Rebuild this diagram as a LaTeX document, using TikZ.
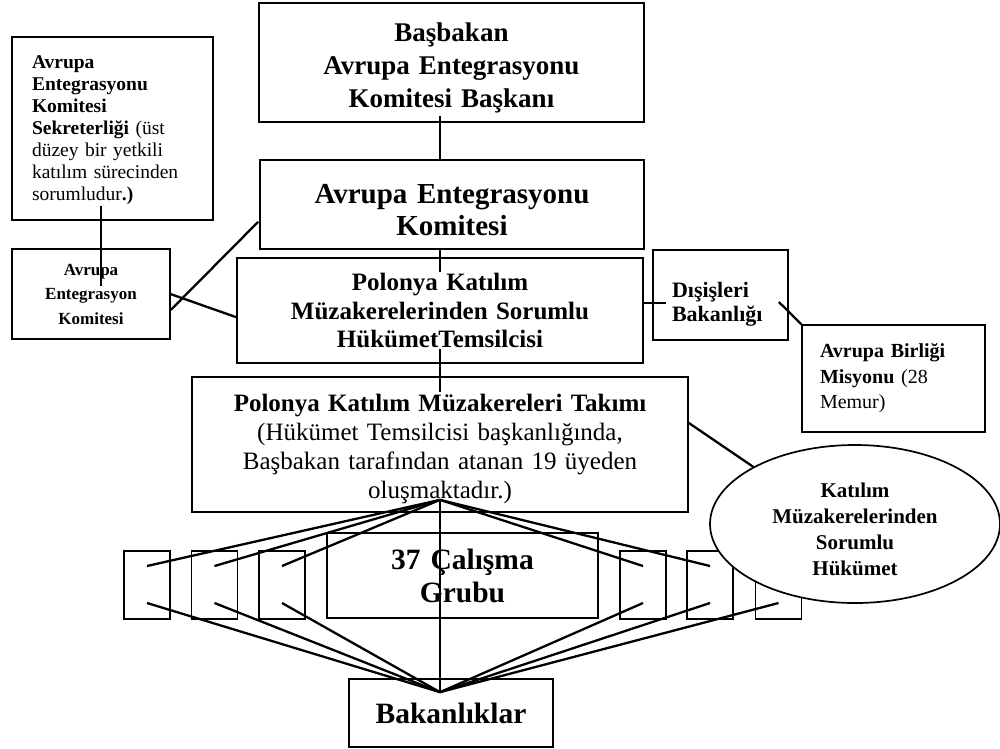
\documentclass[tikz,border=0pt]{standalone}
\usepackage{fontspec}
\setmainfont{Liberation Serif}
\usetikzlibrary{calc,shapes.geometric}
\pgfdeclarelayer{background}
\pgfsetlayers{background,main}
\newcommand{\topstrut}[1]{\rule{0pt}{#1}}
\begin{document}
\begin{tikzpicture}[x=1pt,y=-1pt,
  box/.style={draw, line width=1.7pt, inner sep=0pt, align=center},
  lbox/.style={draw, line width=1.7pt, inner ysep=0pt, align=left},
  sbox/.style={draw, line width=1.7pt, inner sep=0pt, minimum width=46pt, minimum height=68pt},
  conn/.style={draw, line width=2.3pt}]
\useasboundingbox (0,0) rectangle (1000,748);

% main column
\node[box, text width=385pt, minimum height=119pt, font=\fontsize{27}{33}\selectfont\bfseries]
  (pm) at (451.5,62.5) {\topstrut{29pt}Başbakan\\Avrupa Entegrasyonu\\Komitesi Başkanı};
\node[box, text width=384pt, minimum height=89pt, font=\fontsize{29}{32}\selectfont\bfseries]
  (aek) at (452,204.5) {\topstrut{30pt}Avrupa Entegrasyonu\\Komitesi};
\node[box, text width=406pt, minimum height=105pt, font=\fontsize{25}{28.5}\selectfont\bfseries]
  (hukt) at (440,310.5) {Polonya Katılım\\Müzakerelerinden Sorumlu\\HükümetTemsilcisi};
\node[box, text width=496pt, minimum height=135pt, font=\fontsize{25}{29}\selectfont]
  (takim) at (440,444.5) {\topstrut{26.5pt}\textbf{Polonya Katılım Müzakereleri Takımı}\\(Hükümet Temsilcisi başkanlığında,\\Başbakan tarafından atanan 19 üyeden\\oluşmaktadır.)};
\node[box, text width=271pt, minimum height=85pt, font=\fontsize{29.5}{33}\selectfont\bfseries]
  (grup) at (462.5,575.5) {37 Çalışma\\Grubu};
\node[box, text width=204pt, minimum height=68pt, font=\fontsize{29.5}{33}\selectfont\bfseries]
  (bak) at (451,713) {Bakanlıklar};

% left side
\node[lbox, inner xsep=20pt, text width=161pt, minimum height=183pt, font=\fontsize{19.5}{22}\selectfont]
  (sek) at (112.5,128.5) {\topstrut{16pt}\textbf{Avrupa}\\\textbf{Entegrasyonu}\\\textbf{Komitesi}\\\textbf{Sekreterliği} (üst\\düzey bir yetkili\\katılım sürecinden\\sorumludur\textbf{.)}};
\node[box, text width=158pt, minimum height=90pt, font=\fontsize{17}{24.5}\selectfont\bfseries]
  (aek2) at (91,294) {Avrupa\\Entegrasyon\\Komitesi};

% right side
\node[lbox, inner xsep=19pt, text width=97pt, minimum height=90pt, font=\fontsize{22}{24.5}\selectfont\bfseries]
  (dis) at (720.5,295) {\topstrut{34pt}Dışişleri\\Bakanlığı};
\node[lbox, inner xsep=18pt, text width=147pt, minimum height=107pt, font=\fontsize{20}{25.5}\selectfont]
  (ab) at (893.5,378.5) {\textbf{Avrupa Birliği}\\\textbf{Misyonu} (28\\Memur)};
\node[ellipse, draw, fill=white, line width=1.7pt, inner sep=0pt, minimum width=290pt, minimum height=158pt,
  text width=200pt, align=center, font=\fontsize{21}{26}\selectfont\bfseries]
  (el) at (855,524) {\topstrut{24.5pt}Katılım\\Müzakerelerinden\\Sorumlu\\Hükümet};

\begin{pgfonlayer}{background}
% small boxes
\node[sbox] (s1) at (147,585) {};
\node[sbox] (s2) at (214.5,585) {};
\node[sbox] (s3) at (282,585) {};
\node[sbox] (s4) at (643,585) {};
\node[sbox] (s5) at (710,585) {};
\node[sbox] (s6) at (778.5,585) {};

\coordinate (hub1) at ($(takim.south)+(0,-13)$);
\coordinate (hub2) at ($(bak.north)+(-11,14)$);

% vertical spine
\path[conn] ($(pm.south)+(-11.5,-7)$) -- (aek.north -| hukt.north);
\path[conn] (aek.south -| hukt.north) -- ($(hukt.north)+(0,15)$);
\path[conn] ($(hukt.south)+(0,-15)$) -- ($(takim.north)+(0,16)$);
\path[conn] (hub1) -- (hub2);

% left connectors
\path[conn] ($(sek.south west)+(90,-15)$) -- ($(aek2.north west)+(90,38)$);
\path[conn] ($(aek2.south east)+(0,-30)$) -- ($(aek.south west)+(-1,-28)$);
\path[conn] ($(aek2.north east)+(0,46)$) -- ($(hukt.north west)+(0,60)$);

% right connectors
\path[conn] ($(hukt.east)+(0,-7.5)$) -- ($(dis.west)+(14,8)$);
\path[conn] ($(dis.east)+(-10,7)$) -- (ab.north west);
\path[conn] ($(takim.east)+(0,-21.5)$) -- ($(el.center)+(-100,-56)$);

% fan to small boxes
\foreach \s in {s1,s2,s3,s4,s5} {
  \path[conn] (hub1) -- ($(\s.center)+(0,-19)$);
}
\foreach \s in {s1,s2,s3,s4,s5,s6} {
  \path[conn] ($(\s.center)+(0,18)$) -- (hub2);
}
\end{pgfonlayer}
\end{tikzpicture}
\end{document}
